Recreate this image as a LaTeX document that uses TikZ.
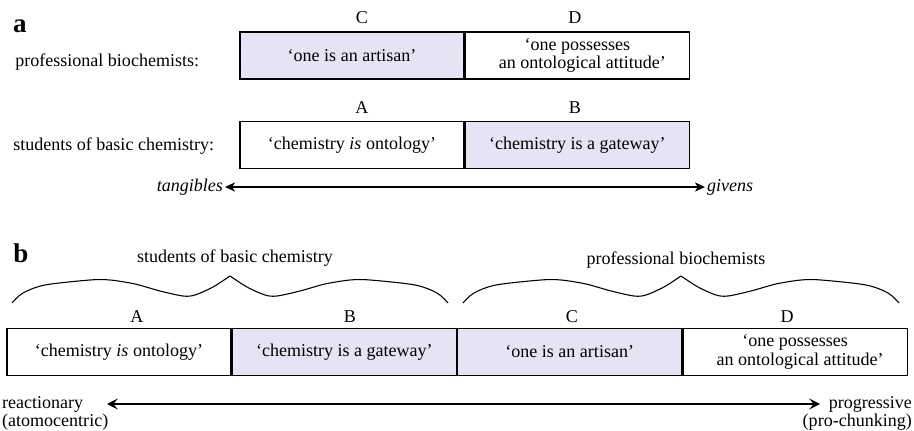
\documentclass[tikz,border=0pt]{standalone}
\usepackage{fontspec}
\setmainfont{Liberation Serif}
\usetikzlibrary{positioning,arrows.meta}
\definecolor{lav}{RGB}{228,228,245}
\tikzset{
  cell/.style={draw, line width=0.7pt, minimum width=4.37cm, minimum height=0.92cm, inner sep=0pt, align=center},
  tinted/.style={cell, fill=lav},
  panel/.style={font=\bfseries\fontsize{15}{15}\selectfont},
  wbrace/.pic={
    \draw[line width=0.6pt] plot[smooth] coordinates {(-218,0) (-207,-10) (-185,-18) (-140,-23) (-120,-23) (-95,-19) (-70,-12) (-47,-7) (-35,-8) (-17,-16) (0,-27)};
    \draw[line width=0.6pt] plot[smooth] coordinates {(218,0) (207,-10) (185,-18) (140,-23) (120,-23) (95,-19) (70,-12) (47,-7) (35,-8) (17,-16) (0,-27)};
  }
}
\begin{document}
\begin{tikzpicture}[x=0.0195cm, y=-0.0195cm, font=\fontsize{10}{10}\selectfont]
			\useasboundingbox (0,0) rectangle (914,431);
			% Panel a
			\node[panel] (pa) at (20,26) {a};
			\node[anchor=west] (rowP) at (9,62) {professional biochemists:};
			\node[tinted] (aC) at (352,55.5) {‘one is an artisan’};
			\node[cell, right=0pt of aC, font=\fontsize{10}{9}\selectfont] (aD) {‘one possesses\\ \;\;an ontological attitude’};
			\node (laC) at (362,18) {C};
			\node (laD) at (575,18) {D};
			\node[anchor=west] (rowS) at (7,146) {students of basic chemistry:};
			\node[cell] (aA) at (352,145) {‘chemistry \emph{is} ontology’};
			\node[tinted, right=0pt of aA] (aB) {‘chemistry is a gateway’};
			\node (laA) at (362,108) {A};
			\node (laB) at (575,108) {B};
			% tangibles <-> givens
			\node[anchor=east, inner sep=1pt, font=\itshape\fontsize{10}{10}\selectfont] (tang) at (225,187) {tangibles};
			\node[anchor=west, inner sep=1pt, font=\itshape\fontsize{10}{10}\selectfont] (giv) at (705,187) {givens};
			\draw[line width=1.5pt, {Stealth[length=5.5pt,width=5pt,inset=1.5pt]}-{Stealth[length=5.5pt,width=5pt,inset=1.5pt]}] (tang) -- (giv);
			% Panel b
			\node[panel] (pb) at (21,253) {b};
			\node (gS) at (235,258) {students of basic chemistry};
			\node (gP) at (676,260) {professional biochemists};
			\pic at (230,303) {wbrace};
			\pic at (681,303) {wbrace};
			\node[cell] (bA) at (119,352) {‘chemistry \emph{is} ontology’};
			\node[tinted, right=0pt of bA] (bB) {‘chemistry is a gateway’};
			\node[tinted, right=0pt of bB] (bC) {‘one is an artisan’};
			\node[cell, right=0pt of bC, font=\fontsize{10}{9}\selectfont] (bD) {‘one possesses\\ \;\;an ontological attitude’};
			\node (lbA) at (137,317) {A};
			\node (lbB) at (350,317) {B};
			\node (lbC) at (572,317) {C};
			\node (lbD) at (787,317) {D};
			% reactionary <-> progressive
			\node[anchor=west, inner sep=1pt] (react) at (0,404) {reactionary};
			\node[anchor=west, inner sep=1pt] (atomo) at (0,422) {(atomocentric)};
			\node[anchor=east, inner sep=1pt] (progr) at (914,404) {progressive};
			\node[anchor=east, inner sep=1pt] (chunk) at (914,422) {(pro-chunking)};
			\coordinate (bL) at (107,404);
			\coordinate (bR) at (820,404);
			\draw[line width=0.8pt, {Stealth[length=6pt,width=6pt,inset=2.5pt]}-{Stealth[length=6pt,width=6pt,inset=2.5pt]}] (bL) -- (bR);
	\end{tikzpicture}
\end{document}
